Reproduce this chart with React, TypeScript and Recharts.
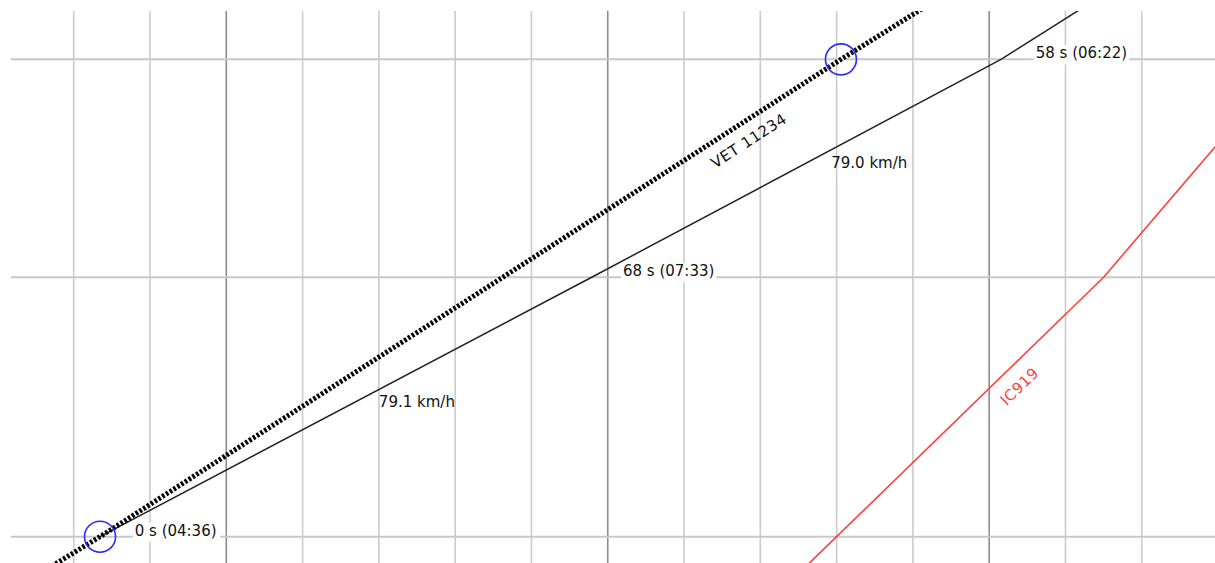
import React from 'react';
import { ComposedChart, Line, XAxis, YAxis, ReferenceLine, ReferenceDot } from 'recharts';

// time axis in minutes, distance axis in km
const minuteTicks = [3, 4, 5, 6, 7, 8, 9, 10, 11, 12, 13, 14, 15, 16, 17];
const majorMinutes = [5, 10, 15];
const stationKm = [0, 8.5, 15.64];

const vet11234 = [
  { t: 2.36, km: -1.5 },
  { t: 3.345, km: 0 },
  { t: 13.057, km: 15.64 },
  { t: 14.57, km: 18 },
];

const regional = [
  { t: 3.345, km: 0 },
  { t: 9.79, km: 8.5 },
  { t: 15.155, km: 15.64 },
  { t: 16.65, km: 18 },
];

const ic919 = [
  { t: 12.38, km: -1.5 },
  { t: 13.0, km: 0 },
  { t: 16.5, km: 8.5 },
  { t: 18.38, km: 14 },
];

const stopMarks = [
  { t: 3.345, km: 0 },
  { t: 13.057, km: 15.64 },
];

const dwellLabels = [
  { t: 3.8, km: 0, text: '0 s (04:36)' },
  { t: 10.2, km: 8.5, text: '68 s (07:33)' },
  { t: 15.61, km: 15.64, text: '58 s (06:22)' },
];

const speedLabels = [
  { t: 7.0, km: 4.26, text: '79.1 km/h' },
  { t: 12.93, km: 12.08, text: '79.0 km/h' },
];

const trainLabels = [
  { t: 11.85, km: 12.97, text: 'VET 11234', angle: -33, color: '#111' },
  { t: 15.4, km: 4.92, text: 'IC919', angle: -44, color: '#ff4040' },
];

const FONT = '"DejaVu Sans", Verdana, sans-serif';

const DwellText = (text: string) => (p: any) => {
  const w = text.length * 7.6;
  return (
    <g>
      <rect x={p.cx - 2} y={p.cy - 14} width={w + 4} height={19} fill="#fff" />
      <text x={p.cx} y={p.cy - 1} fontSize={15} fontFamily={FONT} fill="#111">{text}</text>
    </g>
  );
};

const PlainText = (text: string) => (p: any) => (
  <text x={p.cx} y={p.cy} fontSize={15} fontFamily={FONT} fill="#111">{text}</text>
);

const RotText = (text: string, angle: number, color: string) => (p: any) => (
  <text
    x={p.cx}
    y={p.cy}
    fontSize={15}
    fontFamily={FONT}
    fill={color}
    textAnchor="middle"
    dominantBaseline="central"
    letterSpacing={0.6}
    transform={`rotate(${angle} ${p.cx} ${p.cy})`}
  >
    {text}
  </text>
);

export default function App() {
  return (
    <div style={{ position: 'fixed', left: 0, top: 0, width: 1215, height: 563, background: '#fff', overflow: 'hidden' }}>
      <ComposedChart width={1215} height={563} margin={{ top: 11, right: 0, bottom: 0, left: 11 }}>
        <XAxis type="number" dataKey="t" domain={[2.178, 17.96]} allowDataOverflow hide />
        <YAxis type="number" dataKey="km" domain={[-0.862, 17.225]} allowDataOverflow hide />

        {minuteTicks.map((m) => (
          <ReferenceLine
            key={'m' + m}
            x={m}
            stroke={majorMinutes.includes(m) ? '#8c8c8c' : '#cbcbcb'}
            strokeWidth={1.6}
          />
        ))}
        {stationKm.map((k) => (
          <ReferenceLine key={'s' + k} y={k} stroke="#c8c8c8" strokeWidth={2} />
        ))}

        {dwellLabels.map((l) => (
          <ReferenceDot key={l.text} x={l.t} y={l.km} r={0} shape={DwellText(l.text)} />
        ))}

        <Line data={regional} dataKey="km" stroke="#222" strokeWidth={1.5} dot={false} isAnimationActive={false} />
        <Line
          data={vet11234}
          dataKey="km"
          stroke="#000"
          strokeWidth={5}
          strokeDasharray="2.6 1.9"
          dot={false}
          isAnimationActive={false}
        />
        <Line data={ic919} dataKey="km" stroke="#ff4040" strokeWidth={1.6} dot={false} isAnimationActive={false} />

        {stopMarks.map((s, i) => (
          <ReferenceDot key={'c' + i} x={s.t} y={s.km} r={15.5} fill="none" stroke="#2b2bff" strokeWidth={1.6} />
        ))}
        {speedLabels.map((l) => (
          <ReferenceDot key={l.text} x={l.t} y={l.km} r={0} shape={PlainText(l.text)} />
        ))}
        {trainLabels.map((l) => (
          <ReferenceDot key={l.text} x={l.t} y={l.km} r={0} shape={RotText(l.text, l.angle, l.color)} />
        ))}
      </ComposedChart>
    </div>
  );
}
